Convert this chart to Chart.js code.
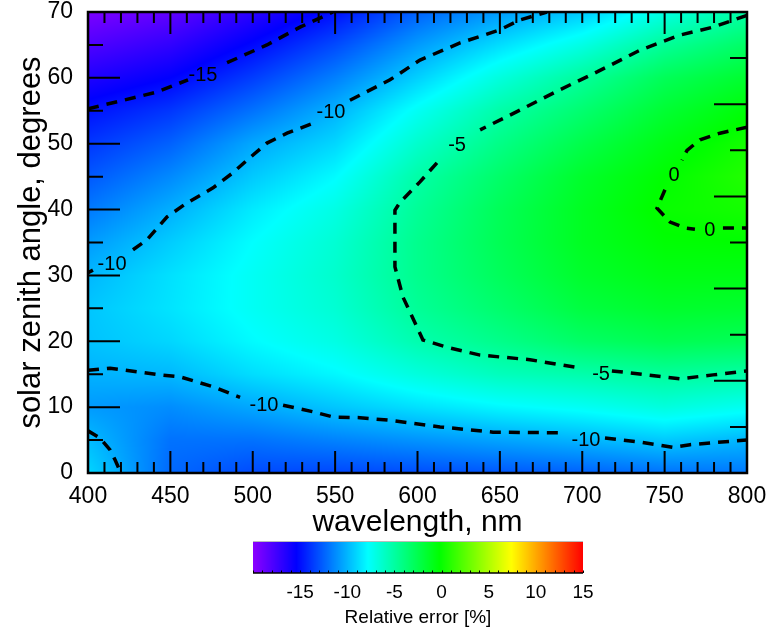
<!DOCTYPE html>
<html><head><meta charset="utf-8">
<script src="https://cdn.jsdelivr.net/npm/chart.js@4/dist/chart.umd.min.js"></script>
<style>
html,body{margin:0;padding:0;background:#fff;}
#wrap{position:relative;width:771px;height:632px;overflow:hidden;}
#main{position:absolute;left:0;top:0;}
#cbar{position:absolute;left:0;top:536px;}
</style></head><body>
<div id="wrap">
<canvas id="main" width="771" height="541"></canvas>
<canvas id="cbar" width="771" height="96"></canvas>
</div>
<script>
// ---------- data ----------
const wavelengths = [400,450,500,550,600,650,700,750,800];
const zenithAngles = [0,5,10,15,20,25,30,35,40,45,50,55,60,65,70];
// relative error [%] at each wavelength, for zenith angles 0..70
const err400 = [-9.0,-9.8,-10.8,-10.1,-9.6,-9.5,-9.95,-10.8,-11.8,-12.8,-13.8,-14.9,-16.4,-18.0,-19.5];
const err450 = [-12.3,-12.0,-11.2,-9.9,-9.0,-8.6,-8.7,-9.3,-10.2,-11.3,-12.5,-13.8,-15.4,-17.0,-18.6];
const err500 = [-13.2,-12.0,-10.4,-8.8,-7.9,-7.5,-7.5,-7.8,-8.4,-9.4,-10.4,-12.0,-13.6,-15.2,-16.8];
const err550 = [-13.3,-11.5,-9.5,-8.0,-7.0,-6.5,-6.3,-6.5,-7.0,-7.9,-9.0,-10.1,-11.6,-13.2,-15.0];
const err600 = [-13.1,-11.0,-8.7,-6.8,-5.4,-4.7,-4.4,-4.4,-4.7,-5.2,-6.3,-7.5,-9.2,-10.8,-12.5];
const err650 = [-12.8,-10.5,-8.0,-5.8,-4.3,-3.4,-2.9,-2.7,-2.8,-3.3,-4.2,-5.2,-6.8,-8.8,-10.8];
const err700 = [-12.5,-10.0,-7.5,-5.3,-3.2,-2.1,-1.5,-1.2,-1.2,-1.5,-2.4,-3.5,-4.8,-7.0,-9.4];
const err750 = [-12.0,-9.4,-6.8,-4.8,-2.6,-1.5,-0.8,-0.3,0.05,-0.2,-0.8,-1.7,-2.8,-4.7,-7.0];
const err800 = [-11.8,-10.0,-7.4,-5.1,-2.8,-1.6,-0.8,-0.2,0.4,0.8,0.4,-0.4,-1.6,-3.2,-5.1];
const errorGrid = [err400,err450,err500,err550,err600,err650,err700,err750,err800];

// contour lines (wavelength, zenith angle); null = gap for label
const cM15_wl  = [400, 441.9, 460.7, 472, 484.4, 508.6, 528.7, 548.7];
const cM15_sza = [55.3, 57.85, 59.7, null, 62.3, 65.0, 67.7, 70];
const cM10a_wl  = [400, 403, 415, 427.3, 435.8, 448, 460, 475.9, 488, 496.5, 508.6, 520.8, 536.6, 547, 559, 583.3, 601.5, 625.8, 650, 662.2, 678.6];
const cM10a_sza = [30.4, 30.8, null, 33.9, 35.4, 38.9, 41.0, 43.3, 45.6, 47.5, 50.1, 51.6, 53.1, null, 56.6, 59.7, 62.7, 65.3, 67.3, 68.8, 70];
const cM10b_wl  = [400, 413.4, 443.7, 455.8, 475.9, 492.3, 505, 518.4, 536.6, 548.7, 565.1, 583.3, 613.7, 645.8, 688.3, 700, 713.8, 735, 755, 765.4, 779.4, 800];
const cM10b_sza = [15.6, 15.9, 14.9, 14.6, 13.1, 11.5, null, 10.3, 9.3, 8.5, 8.4, 8.0, 7.0, 6.2, 6.1, null, 5.3, 4.7, 3.9, 4.3, 4.6, 5.0];
const cM10c_wl  = [400, 407.3, 413.4, 416.4, 420];
const cM10c_sza = [6.4, 5.3, 3.5, 2.0, 0];
const cM5_wl  = [800, 779.4, 759.3, 735, 709, 686.5, 662.2, 638, 625, 611.8, 601.5, 589.4, 586.3, 586.3, 591.2, 603.3, 617.9, 638, 668.3, 699.8, 710, 718, 729, 759.3, 779.4, 800];
const cM5_sza = [69.5, 67.7, 66.5, 64.2, 60.9, 58.2, 55.1, 52.1, null, 47.1, 44.2, 41.1, 39.9, 31.3, 26.7, 20.2, 19.1, 17.9, 17.2, 15.9, null, 15.5, 15.2, 14.3, 14.9, 15.5];
const c0_wl  = [800, 783.6, 771.5, 763.6, 760.6, 755, 750.2, 745.4, 753.3, 762.4, 768.4, 777, 785.4, 800];
const c0_sza = [52.5, 51.6, 50.6, 49.0, 47.5, null, 43.0, 40.2, 38.1, 37.2, 37.0, null, 37.2, 37.2];

const contourLabelText = ['-15','-10','-10','-10','-10','-5','-5','0','0'];
const contourLabelWl   = [469.8, 414.6, 547.5, 506.8, 702.3, 624.0, 711.4, 755.7, 777.5];
const contourLabelSza  = [60.3, 31.6, 54.7, 10.3, 5.0, 49.8, 15.0, 45.1, 36.9];

const xTickLabels = [400,450,500,550,600,650,700,750,800];
const yTickLabels = [0,10,20,30,40,50,60,70];
const cbarTickLabels = [-15,-10,-5,0,5,10,15];

// ---------- colormap ----------
const cmapStops = [-20, -15.4, -7.8, -0.2, 7.4, 15];
const cmapColors = [[140,0,255],[0,0,255],[0,255,255],[0,255,0],[255,255,0],[255,0,0]];
function cmap(v){
  if (v <= cmapStops[0]) return cmapColors[0];
  for (let k=0;k<cmapStops.length-1;k++){
    if (v <= cmapStops[k+1]){
      const t=(v-cmapStops[k])/(cmapStops[k+1]-cmapStops[k]);
      const a=cmapColors[k], b=cmapColors[k+1];
      return [a[0]+(b[0]-a[0])*t, a[1]+(b[1]-a[1])*t, a[2]+(b[2]-a[2])*t];
    }
  }
  return cmapColors[cmapColors.length-1];
}
function findIdx(arr,v){ let i=0; while(i<arr.length-2 && v>arr[i+1]) i++; return i; }
function errorAt(wl, sza){
  const i=findIdx(wavelengths,wl), j=findIdx(zenithAngles,sza);
  let tx=(wl-wavelengths[i])/(wavelengths[i+1]-wavelengths[i]);
  let ty=(sza-zenithAngles[j])/(zenithAngles[j+1]-zenithAngles[j]);
  tx=Math.max(0,Math.min(1,tx)); ty=Math.max(0,Math.min(1,ty));
  const g=errorGrid;
  return (1-tx)*(1-ty)*g[i][j] + tx*(1-ty)*g[i+1][j] + (1-tx)*ty*g[i][j+1] + tx*ty*g[i+1][j+1];
}

Chart.defaults.font.family = "'Liberation Sans', Arial, Helvetica, sans-serif";
Chart.defaults.color = '#000';

const heatmapPlugin = {
  id:'heatmap',
  beforeDatasetsDraw(chart){
    const {ctx, chartArea:a, scales:{x,y}} = chart;
    const w=Math.round(a.right-a.left), h=Math.round(a.bottom-a.top);
    const off=document.createElement('canvas'); off.width=w; off.height=h;
    const octx=off.getContext('2d');
    const img=octx.createImageData(w,h);
    for(let jj=0;jj<h;jj++){
      const sza=y.getValueForPixel(a.top+jj+0.5);
      for(let ii=0;ii<w;ii++){
        const wl=x.getValueForPixel(a.left+ii+0.5);
        const c=cmap(errorAt(wl,sza));
        const p=(jj*w+ii)*4;
        img.data[p]=c[0]; img.data[p+1]=c[1]; img.data[p+2]=c[2]; img.data[p+3]=255;
      }
    }
    octx.putImageData(img,0,0);
    ctx.drawImage(off,a.left,a.top);
  }
};

const framePlugin = {
  id:'frame',
  afterDatasetsDraw(chart){
    const {ctx, chartArea:a, scales:{x,y,x2,y2}} = chart;
    ctx.save();
    ctx.strokeStyle='#000'; ctx.lineWidth=2; ctx.lineCap='butt';
    ctx.beginPath();
    for(let v=400; v<=800; v+=10){
      const px=x.getPixelForValue(v);
      const lb = (v%50===0)?22:11;
      ctx.moveTo(px,a.bottom); ctx.lineTo(px,a.bottom-lb);
      const pt=x2.getPixelForValue(v);
      const lt = ((v-450)%100===0)?22:11;
      ctx.moveTo(pt,a.top); ctx.lineTo(pt,a.top+lt);
    }
    for(let v=0; v<=70; v+=5){
      const py=y.getPixelForValue(v);
      const ll=(v%10===0)?32:15;
      ctx.moveTo(a.left,py); ctx.lineTo(a.left+ll,py);
    }
    for(let v=0; v<=10; v+=1){
      const py=y2.getPixelForValue(v);
      const lr=(v%2===0)?33:17;
      ctx.moveTo(a.right,py); ctx.lineTo(a.right-lr,py);
    }
    ctx.stroke();
    ctx.lineWidth=2.5;
    ctx.strokeRect(a.left,a.top,a.right-a.left,a.bottom-a.top);
    // contour labels
    ctx.fillStyle='#000';
    ctx.font="20px 'Liberation Sans', Arial, sans-serif";
    ctx.textAlign='center'; ctx.textBaseline='middle';
    for(let k=0;k<contourLabelText.length;k++){
      ctx.fillText(contourLabelText[k], x.getPixelForValue(contourLabelWl[k]), y.getPixelForValue(contourLabelSza[k]));
    }
    ctx.restore();
  }
};

function pts(wl,sza){ return wl.map((w,k)=>({x:w, y:sza[k]})); }
function contourDs(wl,sza){
  return {data:pts(wl,sza), borderColor:'#000', borderWidth:3.5, borderDash:[11,8],
    pointRadius:0, fill:false, tension:0, spanGaps:false, borderCapStyle:'butt'};
}
function noPad(s){ s.paddingTop=0; s.paddingBottom=0; s.paddingLeft=0; s.paddingRight=0; }

new Chart(document.getElementById('main'), {
  type:'line',
  data:{datasets:[
    contourDs(cM15_wl,cM15_sza),
    contourDs(cM10a_wl,cM10a_sza),
    contourDs(cM10b_wl,cM10b_sza),
    contourDs(cM10c_wl,cM10c_sza),
    contourDs(cM5_wl,cM5_sza),
    contourDs(c0_wl,c0_sza)
  ]},
  options:{
    responsive:false, animation:false, devicePixelRatio:1,
    layout:{padding:0},
    plugins:{legend:{display:false}, tooltip:{enabled:false}},
    scales:{
      x:{type:'linear', position:'bottom', min:400, max:800,
         afterBuildTicks:s=>{s.ticks=xTickLabels.map(v=>({value:v}));},
         ticks:{font:{size:23}, color:'#000', padding:10, maxRotation:0, autoSkip:false},
         grid:{display:false, drawTicks:false}, border:{display:false},
         title:{display:true, text:'wavelength, nm', font:{size:30}, color:'#000', padding:{top:0,bottom:0}},
         afterFit:s=>{s.height=68; noPad(s);}},
      x2:{type:'linear', position:'top', min:400, max:800, axis:'x',
         ticks:{display:false}, grid:{display:false, drawTicks:false}, border:{display:false},
         afterFit:s=>{s.height=12; noPad(s);}},
      y:{type:'linear', position:'left', min:0, max:70,
         afterBuildTicks:s=>{s.ticks=yTickLabels.map(v=>({value:v}));},
         ticks:{font:{size:23, lineHeight:1}, color:'#000', padding:15, autoSkip:false},
         grid:{display:false, drawTicks:false}, border:{display:false},
         title:{display:true, text:'solar zenith angle, degrees', font:{size:31}, color:'#000', padding:{top:13,bottom:0}},
         afterFit:s=>{s.width=88; noPad(s);}},
      y2:{type:'linear', position:'right', min:0, max:10, axis:'y',
         ticks:{display:false}, grid:{display:false, drawTicks:false}, border:{display:false},
         afterFit:s=>{s.width=24; noPad(s);}}
    }
  },
  plugins:[heatmapPlugin, framePlugin]
});

const colorbarPlugin = {
  id:'colorbar',
  beforeDatasetsDraw(chart){
    const {ctx, chartArea:a, scales:{x}} = chart;
    ctx.save();
    for(let px=Math.floor(a.left); px<Math.ceil(a.right); px++){
      const c=cmap(x.getValueForPixel(px+0.5));
      ctx.fillStyle=`rgb(${Math.round(c[0])},${Math.round(c[1])},${Math.round(c[2])})`;
      ctx.fillRect(px,a.top,1,a.bottom-a.top);
    }
    ctx.strokeStyle='#000'; ctx.lineWidth=1;
    ctx.beginPath();
    for(let v=-20; v<=15; v+=1){
      const px=Math.round(x.getPixelForValue(v))+0.5;
      ctx.moveTo(px,a.bottom); ctx.lineTo(px,a.bottom-2.5);
    }
    ctx.stroke();
    ctx.lineWidth=1.5;
    ctx.beginPath(); ctx.moveTo(a.left,a.bottom); ctx.lineTo(a.right,a.bottom); ctx.stroke();
    ctx.strokeStyle='#bbb'; ctx.lineWidth=1;
    ctx.beginPath(); ctx.moveTo(a.left,a.top+0.5); ctx.lineTo(a.right,a.top+0.5); ctx.stroke();
    ctx.restore();
  }
};

new Chart(document.getElementById('cbar'), {
  type:'line',
  data:{datasets:[]},
  options:{
    responsive:false, animation:false, devicePixelRatio:1,
    layout:{padding:{left:253,right:188,top:5,bottom:0}},
    plugins:{legend:{display:false}, tooltip:{enabled:false}},
    scales:{
      x:{type:'linear', min:-20, max:15,
         afterBuildTicks:s=>{s.ticks=cbarTickLabels.map(v=>({value:v}));},
         ticks:{font:{size:19}, color:'#000', padding:8, maxRotation:0, autoSkip:false},
         grid:{display:false, drawTicks:false}, border:{display:false},
         title:{display:true, text:'Relative error [%]', font:{size:19}, color:'#000', padding:{top:0,bottom:3}},
         afterFit:s=>{s.height=59; noPad(s);}},
      y:{display:false, min:0, max:1}
    }
  },
  plugins:[colorbarPlugin]
});
</script>
</body></html>
